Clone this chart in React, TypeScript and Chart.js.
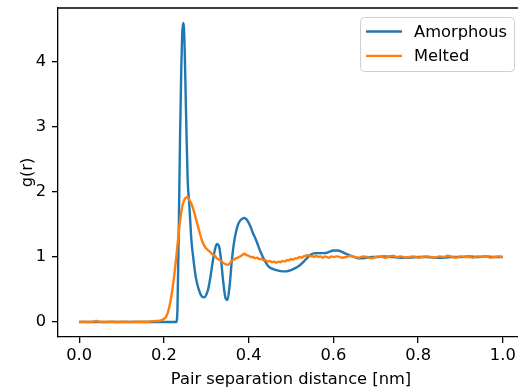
import React, { useEffect, useRef } from "react";
import { Chart, registerables } from "chart.js";

Chart.register(...registerables);

// ---- data ----
const seriesLabels = ["Amorphous", "Melted"];
const xTickValues = [0.0, 0.2, 0.4, 0.6, 0.8, 1.0];
const yTickValues = [0, 1, 2, 3, 4];

const rAmorphous = [
  0, 0.02, 0.038, 0.04, 0.042, 0.06, 0.1, 0.15, 0.2,
  0.229, 0.232, 0.235, 0.238, 0.241, 0.243, 0.245, 0.247, 0.249, 0.251, 0.253, 0.256,
  0.26, 0.265, 0.27, 0.275, 0.28, 0.285, 0.29, 0.295, 0.3, 0.305,
  0.31, 0.315, 0.32, 0.325, 0.33, 0.335, 0.34, 0.345, 0.35, 0.355,
  0.36, 0.365, 0.37, 0.375, 0.38, 0.385, 0.39, 0.395, 0.4, 0.405,
  0.41, 0.415, 0.42, 0.425, 0.43, 0.435, 0.44, 0.445, 0.45,
  0.46, 0.47, 0.48, 0.49, 0.5, 0.51, 0.52, 0.53, 0.54, 0.55,
  0.56, 0.57, 0.58, 0.59, 0.6, 0.61, 0.62, 0.63, 0.64, 0.65,
  0.66, 0.67, 0.68, 0.69, 0.7,
  0.72, 0.74, 0.76, 0.78, 0.8, 0.82, 0.84, 0.86, 0.88, 0.9, 0.92, 0.94, 0.96, 0.98, 1.0,
];
const gAmorphous = [
  0, 0, 0, 0.015, 0, 0, 0, 0, 0,
  0, 0.2, 1.4, 2.8, 3.9, 4.4, 4.6, 4.55, 4.2, 3.6, 3.0, 2.2,
  1.8, 1.25, 0.95, 0.7, 0.55, 0.45, 0.39, 0.38, 0.42, 0.52,
  0.7, 0.92, 1.1, 1.2, 1.17, 0.95, 0.62, 0.38, 0.34, 0.55,
  0.92, 1.2, 1.38, 1.5, 1.56, 1.59, 1.6, 1.58, 1.53, 1.46,
  1.37, 1.3, 1.22, 1.13, 1.05, 0.98, 0.92, 0.87, 0.84,
  0.81, 0.79, 0.78, 0.78, 0.8, 0.83, 0.87, 0.93, 1.0, 1.05,
  1.06, 1.06, 1.06, 1.08, 1.1, 1.1, 1.08, 1.05, 1.02, 1.0,
  0.98, 0.98, 0.99, 1.0, 1.0,
  1.01, 1.0, 0.99, 0.99, 1.0, 1.0, 0.99, 0.99, 1.0, 1.0, 1.01, 1.0, 1.01, 1.0, 1.0,
];

const rMelted = [
  0, 0.01, 0.02, 0.03, 0.04, 0.05, 0.06, 0.07, 0.08, 0.09,
  0.1, 0.11, 0.12, 0.13, 0.14, 0.15, 0.16, 0.17, 0.18,
  0.19, 0.195, 0.2, 0.205, 0.21, 0.215, 0.22, 0.225, 0.23, 0.235,
  0.24, 0.245, 0.25, 0.255, 0.26, 0.265, 0.27, 0.275, 0.28, 0.285,
  0.29, 0.295, 0.3,
  0.305, 0.31, 0.315, 0.32, 0.325, 0.33, 0.335, 0.34, 0.345, 0.35,
  0.355, 0.36, 0.365, 0.37, 0.375, 0.38, 0.385, 0.39, 0.395, 0.4,
  0.405, 0.41, 0.415, 0.42, 0.425, 0.43, 0.435, 0.44, 0.445, 0.45,
  0.455, 0.46, 0.465, 0.47, 0.475, 0.48, 0.485, 0.49, 0.495, 0.5,
  0.505, 0.51, 0.515, 0.52, 0.525, 0.53, 0.535, 0.54, 0.545, 0.55,
  0.555, 0.56, 0.565, 0.57, 0.575, 0.58, 0.585, 0.59, 0.595, 0.6,
  0.61, 0.62, 0.63, 0.64, 0.65, 0.66, 0.67, 0.68, 0.69, 0.7,
  0.71, 0.72, 0.73, 0.74, 0.75, 0.76, 0.77, 0.78, 0.79, 0.8,
  0.81, 0.82, 0.83, 0.84, 0.85, 0.86, 0.87, 0.88, 0.89, 0.9,
  0.91, 0.92, 0.93, 0.94, 0.95, 0.96, 0.97, 0.98, 0.99, 1.0,
];
const gMelted = [
  0.0, 0.005, 0.0, 0.005, 0.015, 0.005, 0.0, 0.005, 0.005, 0.0,
  0.005, 0.005, 0.0, 0.005, 0.005, 0.005, 0.005, 0.01, 0.015,
  0.02, 0.03, 0.05, 0.08, 0.16, 0.3, 0.5, 0.75, 1.05, 1.38,
  1.65, 1.82, 1.9, 1.92, 1.88, 1.82, 1.72, 1.6, 1.48, 1.36,
  1.25, 1.18, 1.13,
  1.1, 1.07, 1.04, 1.02, 0.98, 0.96, 0.94, 0.91, 0.89, 0.88,
  0.9, 0.94, 0.96, 0.98, 0.99, 1.01, 1.03, 1.05, 1.03, 1.02,
  1.0, 1.0, 0.98, 0.99, 0.97, 0.97, 0.95, 0.95, 0.93, 0.94,
  0.92, 0.93, 0.91, 0.93, 0.92, 0.94, 0.93, 0.95, 0.95, 0.97,
  0.96, 0.98, 0.98, 1.0, 0.99, 1.01, 1.02, 1.03, 1.01, 1.02,
  1.0, 1.02, 1.0, 1.01, 0.99, 1.01, 1.0, 0.99, 1.01, 1.0,
  1.01, 0.99, 1.0, 1.02, 1.0, 0.99, 1.01, 1.0, 0.98, 1.0,
  1.01, 0.99, 1.0, 1.02, 1.0, 1.01, 0.99, 1.0, 1.01, 0.99,
  1.0, 1.01, 1.0, 0.99, 1.01, 1.0, 1.02, 1.0, 0.99, 1.01,
  1.0, 1.0, 0.99, 1.01, 1.0, 1.01, 0.99, 1.0, 1.01, 1.0,
];

const seriesColors = ["#1f77b4", "#ff7f0e"];

const FONT_FAMILY = "'DejaVu Sans', sans-serif";
const FONT_SIZE = 16.3;

function zip(xs: number[], ys: number[]) {
  const n = Math.min(xs.length, ys.length);
  const out: { x: number; y: number }[] = [];
  for (let i = 0; i < n; i++) out.push({ x: xs[i], y: ys[i] });
  return out;
}

export default function App() {
  const ref = useRef<HTMLCanvasElement | null>(null);

  useEffect(() => {
    if (!ref.current) return;
    const font = { family: FONT_FAMILY, size: FONT_SIZE };

    const framePlugin = {
      id: "frameTopRight",
      afterDatasetsDraw(chart: any) {
        const { ctx, chartArea: a } = chart;
        ctx.save();
        ctx.strokeStyle = "#000";
        ctx.lineWidth = 1.3;
        ctx.beginPath();
        ctx.moveTo(a.left, a.top);
        ctx.lineTo(a.right, a.top);
        ctx.lineTo(a.right, a.bottom);
        ctx.stroke();
        ctx.restore();
      },
    };

    const legendPlugin = {
      id: "mplLegend",
      afterDraw(chart: any) {
        const ctx = chart.ctx;
        ctx.save();
        const x0 = 360.5, y0 = 17.5, w = 154, h = 54;
        ctx.beginPath();
        (ctx as any).roundRect(x0, y0, w, h, 4);
        ctx.fillStyle = "rgba(255,255,255,0.8)";
        ctx.fill();
        ctx.strokeStyle = "#d0d0d0";
        ctx.lineWidth = 1;
        ctx.stroke();
        ctx.font = `${FONT_SIZE}px ${FONT_FAMILY}`;
        ctx.textBaseline = "middle";
        ctx.textAlign = "left";
        chart.data.datasets.forEach((ds: any, i: number) => {
          const y = 31.5 + i * 24.4;
          ctx.strokeStyle = ds.borderColor;
          ctx.lineWidth = 2.4;
          ctx.beginPath();
          ctx.moveTo(366, y);
          ctx.lineTo(402, y);
          ctx.stroke();
          ctx.fillStyle = "#000";
          ctx.fillText(ds.label, 414, y + 1);
        });
        ctx.restore();
      },
    };

    const chart = new Chart(ref.current, {
      type: "line",
      data: {
        datasets: [
          {
            label: seriesLabels[0],
            data: zip(rAmorphous, gAmorphous),
            borderColor: seriesColors[0],
            backgroundColor: seriesColors[0],
            borderWidth: 2.4,
            pointRadius: 0,
            cubicInterpolationMode: "monotone",
            order: 1,
          },
          {
            label: seriesLabels[1],
            data: zip(rMelted, gMelted),
            borderColor: seriesColors[1],
            backgroundColor: seriesColors[1],
            borderWidth: 2.4,
            pointRadius: 0,
            cubicInterpolationMode: "monotone",
            order: 0,
          },
        ],
      },
      options: {
        animation: false,
        responsive: false,
        layout: { padding: { top: 8, right: 16, left: 0, bottom: 0 } },
        plugins: { legend: { display: false }, tooltip: { enabled: false } },
        scales: {
          x: {
            type: "linear",
            min: -0.05,
            max: 1.05,
            afterBuildTicks: (s: any) => {
              s.ticks = xTickValues.map((v) => ({ value: v }));
            },
            afterFit: (s: any) => {
              s.height = 53;
              s.paddingLeft = 0;
              s.paddingRight = 0;
            },
            ticks: {
              callback: (v: any) => Number(v).toFixed(1),
              font,
              color: "#000",
              padding: 3,
              maxRotation: 0,
              autoSkip: false,
            },
            grid: {
              drawOnChartArea: false,
              drawTicks: true,
              tickLength: 6,
              color: "#000",
              lineWidth: 1.3,
            },
            border: { color: "#000", width: 1.3 },
            title: {
              display: true,
              text: "Pair separation distance [nm]",
              font,
              color: "#000",
              padding: { top: 0, bottom: 0 },
            },
          },
          y: {
            type: "linear",
            min: -0.23,
            max: 4.83,
            afterBuildTicks: (s: any) => {
              s.ticks = yTickValues.map((v) => ({ value: v }));
            },
            afterFit: (s: any) => {
              s.width = 58;
              s.paddingTop = 0;
              s.paddingBottom = 0;
            },
            ticks: {
              callback: (v: any) => String(v),
              font,
              color: "#000",
              padding: 6,
              autoSkip: false,
            },
            grid: {
              drawOnChartArea: false,
              drawTicks: true,
              tickLength: 6,
              color: "#000",
              lineWidth: 1.3,
            },
            border: { color: "#000", width: 1.3 },
            title: {
              display: true,
              text: "g(r)",
              font,
              color: "#000",
              padding: { top: 18, bottom: 0 },
            },
          },
        },
      },
      plugins: [framePlugin, legendPlugin],
    } as any);

    return () => chart.destroy();
  }, []);

  return (
    <div
      style={{
        position: "absolute",
        left: 0,
        top: 0,
        width: 518,
        height: 390,
        overflow: "hidden",
        background: "#fff",
      }}
    >
      <canvas ref={ref} width={540} height={390} style={{ display: "block" }} />
    </div>
  );
}
